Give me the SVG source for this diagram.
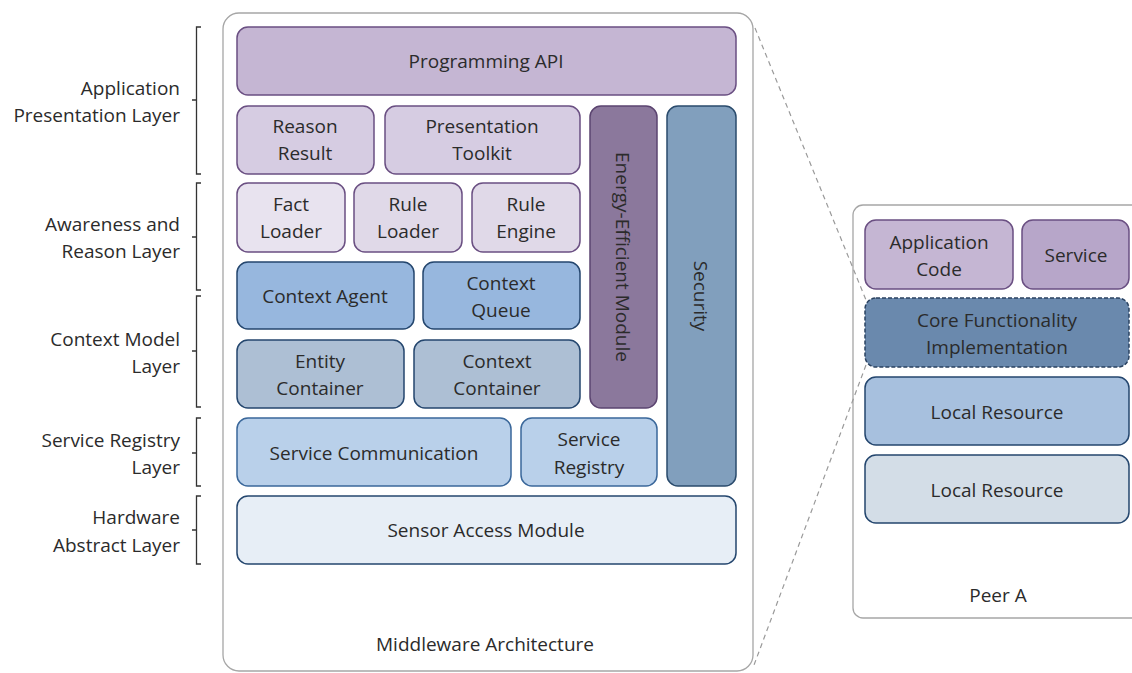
<svg xmlns="http://www.w3.org/2000/svg" width="1132" height="673" viewBox="0 0 1132 673">
<style>
text{font-family:"Open Sans","Liberation Sans",Arial,sans-serif;font-size:19px;fill:#2b2b2b;text-anchor:middle;dominant-baseline:central}
.lab{text-anchor:end}
.br{fill:none;stroke:#333;stroke-width:1.3}
.box{stroke-width:1.5}
.pu{stroke:#6a4f82}
.bl{stroke:#24466e}
.cont{fill:#fff;stroke:#a6a6a6;stroke-width:1.3}
.conn{fill:none;stroke:#9a9a9a;stroke-width:1.2;stroke-dasharray:5 4}
</style>
<rect width="1132" height="673" fill="#fff"/>
<g id="peerA-container"><rect class="cont" x="853" y="205" width="300" height="413" rx="10"/><text x="998" y="595">Peer A</text></g>
<g id="middleware-container"><rect class="cont" x="223" y="13" width="530" height="658" rx="16"/><text x="485" y="644">Middleware Architecture</text></g>
<g id="connectors">
<line class="conn" x1="755" y1="28" x2="866" y2="300"/>
<line class="conn" x1="866" y1="365" x2="754" y2="665"/>
</g>
<g id="brackets">
<path class="br" d="M201,27 H196.5 V174 H201 M196.5,100 H192"/>
<path class="br" d="M201,183 H196.5 V290 H201 M196.5,237 H192"/>
<path class="br" d="M201,296 H196.5 V407 H201 M196.5,351 H192"/>
<path class="br" d="M201,418 H196.5 V486 H201 M196.5,453 H192"/>
<path class="br" d="M201,496 H196.5 V564 H201 M196.5,530 H192"/>
</g>
<g id="labels">
<text class="lab" x="180" y="88">Application</text><text class="lab" x="180" y="115">Presentation Layer</text>
<text class="lab" x="180" y="224">Awareness and</text><text class="lab" x="180" y="251">Reason Layer</text>
<text class="lab" x="180" y="339">Context Model</text><text class="lab" x="180" y="366">Layer</text>
<text class="lab" x="180" y="440">Service Registry</text><text class="lab" x="180" y="467">Layer</text>
<text class="lab" x="180" y="517">Hardware</text><text class="lab" x="180" y="545">Abstract Layer</text>
</g>
<g id="programming-api"><rect class="box pu" x="237" y="27" width="499" height="68" rx="11" fill="#c5b6d3"/><text x="486" y="61">Programming API</text></g>
<g id="reason-result"><rect class="box pu" x="237" y="106" width="137" height="68" rx="11" fill="#d6cce2"/><text x="305" y="126">Reason</text><text x="305" y="153">Result</text></g>
<g id="presentation-toolkit"><rect class="box pu" x="385" y="106" width="195" height="68" rx="11" fill="#d6cce2"/><text x="482" y="126">Presentation</text><text x="482" y="153">Toolkit</text></g>
<g id="energy-module"><rect class="box" stroke="#5b4470" x="590" y="106" width="67" height="302" rx="11" fill="#8b789c"/><text transform="translate(623,257) rotate(90)">Energy-Efficient  Module</text></g>
<g id="security"><rect class="box" stroke="#2a4b6c" x="667" y="106" width="69" height="380" rx="11" fill="#819fbd"/><text transform="translate(701,296) rotate(90)">Security</text></g>
<g id="fact-loader"><rect class="box pu" x="237" y="183" width="108" height="69" rx="11" fill="#e8e3ef"/><text x="291" y="204">Fact</text><text x="291" y="231">Loader</text></g>
<g id="rule-loader"><rect class="box pu" x="354" y="183" width="108" height="69" rx="11" fill="#e0d9e8"/><text x="408" y="204">Rule</text><text x="408" y="231">Loader</text></g>
<g id="rule-engine"><rect class="box pu" x="472" y="183" width="108" height="69" rx="11" fill="#e0d9e8"/><text x="526" y="204">Rule</text><text x="526" y="231">Engine</text></g>
<g id="context-agent"><rect class="box bl" x="237" y="262" width="177" height="67" rx="11" fill="#97b7de"/><text x="325" y="296">Context Agent</text></g>
<g id="context-queue"><rect class="box bl" x="423" y="262" width="157" height="67" rx="11" fill="#97b7de"/><text x="501" y="283">Context</text><text x="501" y="310">Queue</text></g>
<g id="entity-container"><rect class="box bl" x="237" y="340" width="167" height="68" rx="11" fill="#adbfd4"/><text x="320" y="361">Entity</text><text x="320" y="388">Container</text></g>
<g id="context-container"><rect class="box bl" x="414" y="340" width="166" height="68" rx="11" fill="#adbfd4"/><text x="497" y="361">Context</text><text x="497" y="388">Container</text></g>
<g id="service-communication"><rect class="box" stroke="#3a679a" x="237" y="418" width="274" height="68" rx="11" fill="#b9d0ea"/><text x="374" y="453">Service Communication</text></g>
<g id="service-registry"><rect class="box" stroke="#3a679a" x="521" y="418" width="136" height="68" rx="11" fill="#b9d0ea"/><text x="589" y="439">Service</text><text x="589" y="467">Registry</text></g>
<g id="sensor-access"><rect class="box bl" x="237" y="496" width="499" height="68" rx="11" fill="#e7eef6"/><text x="486" y="530">Sensor Access Module</text></g>
<g id="application-code"><rect class="box pu" x="865" y="220" width="148" height="69" rx="11" fill="#c5b6d3"/><text x="939" y="242">Application</text><text x="939" y="269">Code</text></g>
<g id="service"><rect class="box pu" x="1022" y="220" width="107" height="69" rx="11" fill="#b7a6c9"/><text x="1076" y="255">Service</text></g>
<g id="core-functionality"><rect class="box" stroke="#2a4260" stroke-dasharray="4 2" x="865" y="298" width="264" height="69" rx="11" fill="#6a89ad"/><text x="997" y="320">Core Functionality</text><text x="997" y="347">Implementation</text></g>
<g id="local-resource-1"><rect class="box bl" x="865" y="377" width="264" height="68" rx="11" fill="#a7c0de"/><text x="997" y="412">Local Resource</text></g>
<g id="local-resource-2"><rect class="box bl" x="865" y="455" width="264" height="68" rx="11" fill="#d3dde7"/><text x="997" y="490">Local Resource</text></g>
</svg>
